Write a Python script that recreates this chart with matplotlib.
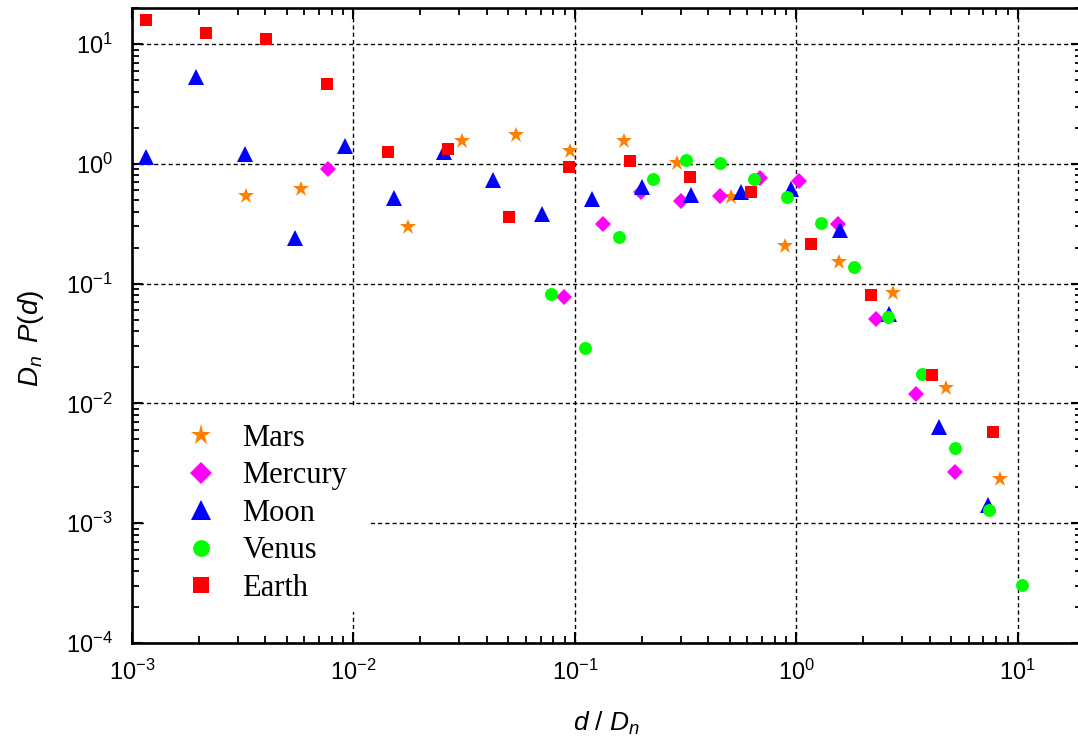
import matplotlib
matplotlib.use("Agg")
import matplotlib.pyplot as plt
from matplotlib.patches import Rectangle
from matplotlib.ticker import LogLocator, LogFormatterMathtext, NullFormatter

plt.rcParams['font.family'] = ['Liberation Sans', 'DejaVu Sans']
plt.rcParams['mathtext.fontset'] = 'custom'
plt.rcParams['mathtext.rm'] = 'Liberation Sans'
plt.rcParams['mathtext.it'] = 'Liberation Sans:italic'
plt.rcParams['mathtext.bf'] = 'Liberation Sans:bold'

# ---- data ----
mars_x = [3.27e-3, 5.79e-3, 0.01765, 0.031, 0.0542, 0.0948, 0.1665, 0.288, 0.509, 0.887, 1.556, 2.72, 4.76, 8.35]
mars_y = [0.538, 0.612, 0.298, 1.55, 1.74, 1.285, 1.56, 1.01, 0.525, 0.206, 0.151, 0.0839, 0.01336, 2.32e-3]

mercury_x = [7.69e-3, 0.0889, 0.1333, 0.1986, 0.301, 0.452, 0.684, 1.026, 1.535, 2.30, 3.47, 5.23]
mercury_y = [0.906, 0.0778, 0.313, 0.582, 0.489, 0.538, 0.766, 0.723, 0.314, 0.0507, 0.01197, 2.66e-3]

moon_x = [1.153e-3, 1.94e-3, 3.25e-3, 5.44e-3, 9.16e-3, 0.01518, 0.02553, 0.0427, 0.0714, 0.1194,
          0.2, 0.335, 0.560, 0.949, 1.572, 2.62, 4.40, 7.34]
moon_y = [1.13, 5.31, 1.21, 0.239, 1.42, 0.515, 1.26, 0.733, 0.378, 0.506,
          0.644, 0.549, 0.585, 0.612, 0.280, 0.0555, 6.39e-3, 1.42e-3]

venus_x = [0.0782, 0.1113, 0.1585, 0.2244, 0.319, 0.450, 0.641, 0.908, 1.29, 1.83, 2.60, 3.68, 5.23, 7.42, 10.5]
venus_y = [0.0818, 0.0288, 0.246, 0.742, 1.07, 1.016, 0.742, 0.531, 0.318, 0.138, 0.0530, 0.0175, 4.27e-3, 1.29e-3, 3.05e-4]

earth_x = [1.157e-3, 2.16e-3, 4.03e-3, 7.59e-3, 0.01432, 0.0266, 0.0504, 0.0942, 0.177, 0.332,
           0.624, 1.162, 2.18, 4.12, 7.71]
earth_y = [15.9, 12.4, 11.0, 4.64, 1.25, 1.32, 0.357, 0.946, 1.06, 0.776,
           0.585, 0.213, 0.0807, 0.01726, 5.74e-3]

series_names = ['Mars', 'Mercury', 'Moon', 'Venus', 'Earth']

# ---- figure ----
fig = plt.figure(figsize=(10.78, 7.42), dpi=100)
ax = fig.add_axes([132/1078, 99/742, 950/1078, 635/742])

styles = [
    (mars_x, mars_y, '*', '#FF8000', 12.0),
    (mercury_x, mercury_y, 'D', '#FF00FF', 8.4),
    (moon_x, moon_y, '^', '#0000FF', 11.5),
    (venus_x, venus_y, 'o', '#00FF00', 9.3),
    (earth_x, earth_y, 's', '#FF0000', 8.8),
]
for name, (xs, ys, m, c, ms) in zip(series_names, styles):
    ax.plot(xs, ys, linestyle='none', marker=m, color=c, markersize=ms,
            markeredgewidth=0, label=name, zorder=3)

ax.set_xscale('log')
ax.set_yscale('log')
ax.set_xlim(1e-3, 19.5)
ax.set_ylim(1e-4, 20)

ax.xaxis.set_major_locator(LogLocator(base=10, numticks=20))
ax.yaxis.set_major_locator(LogLocator(base=10, numticks=20))
ax.xaxis.set_minor_locator(LogLocator(base=10, subs=range(2, 10), numticks=50))
ax.yaxis.set_minor_locator(LogLocator(base=10, subs=range(2, 10), numticks=50))
ax.xaxis.set_major_formatter(LogFormatterMathtext())
ax.yaxis.set_major_formatter(LogFormatterMathtext())
ax.xaxis.set_minor_formatter(NullFormatter())
ax.yaxis.set_minor_formatter(NullFormatter())

ax.grid(True, which='major', color='black', linestyle=(0, (3, 2.2)), linewidth=1.0, zorder=1)
ax.set_axisbelow(True)

# white background of the legend area (hides the grid there, keeps axis ticks)
ax.add_patch(Rectangle((0.0135, 0.0488), 0.2349, 0.3212, transform=ax.transAxes,
                       facecolor='white', edgecolor='none', zorder=2))

ax.tick_params(which='both', direction='in', top=True, right=True)
ax.tick_params(which='major', length=8, width=1.5, labelsize=17)
ax.tick_params(which='minor', length=5, width=1.3)
ax.tick_params(axis='x', which='major', pad=12)
ax.tick_params(axis='y', which='major', pad=14)
for sp in ax.spines.values():
    sp.set_linewidth(1.9)
    sp.set_zorder(4)

ax.set_xlabel(r'$d\ /\ D_n$', fontsize=19)
ax.set_ylabel(r'$D_n\;\;P(d)$', fontsize=20)
ax.xaxis.set_label_coords(0.5, -0.105)
ax.yaxis.set_label_coords(-0.09, 0.48)

leg = ax.legend(loc='upper left', bbox_to_anchor=(0.0263, 0.367), borderaxespad=0,
                prop={'family': 'Liberation Serif', 'size': 22},
                frameon=False, borderpad=0.45, handlelength=2.0, handletextpad=0.35,
                labelspacing=0.28, markerscale=1.3)
leg.set_zorder(5)

fig.savefig('out.png', dpi=100)
